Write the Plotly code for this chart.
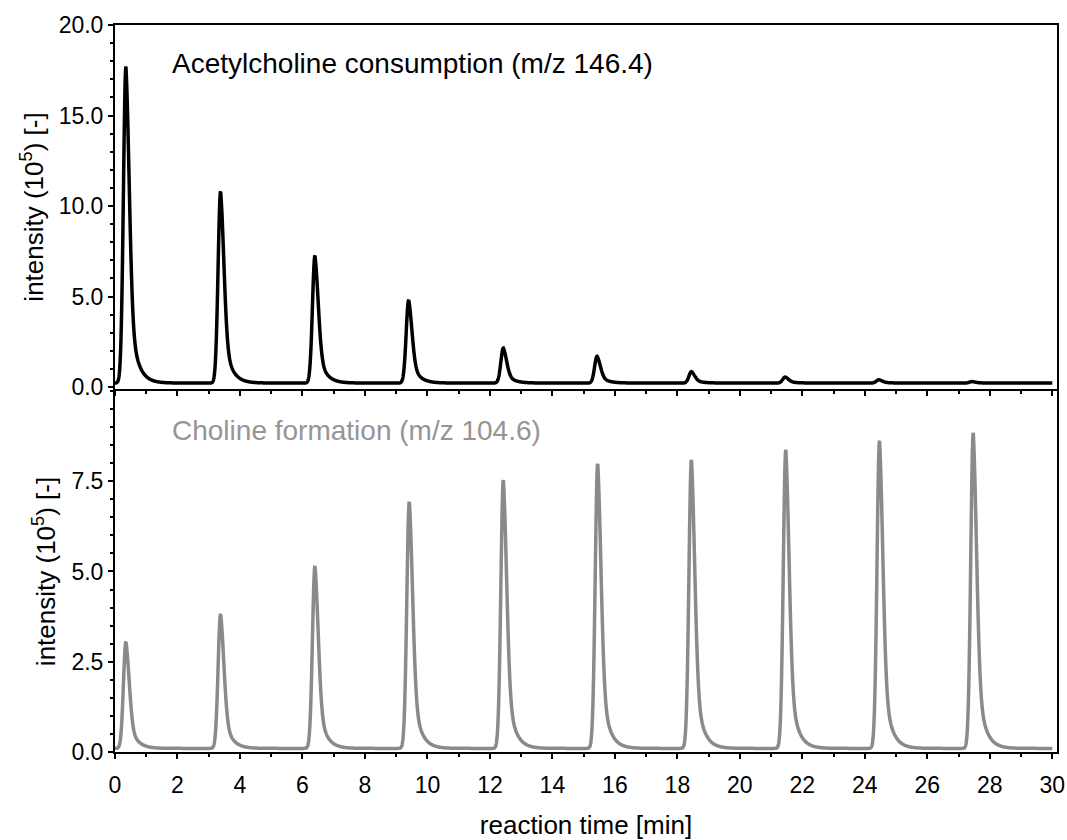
import numpy as np
import plotly.graph_objects as go

# Injection apex times [min] and apex intensities [10^5]
ach_times = [0.35, 3.38, 6.40, 9.40, 12.43, 15.43, 18.45, 21.45, 24.45, 27.43]
ach_heights = [17.7, 10.8, 7.25, 4.8, 2.15, 1.7, 0.85, 0.55, 0.4, 0.3]
ach_baseline = 0.22

cho_times = [0.35, 3.38, 6.40, 9.42, 12.43, 15.45, 18.45, 21.47, 24.47, 27.47]
cho_heights = [3.05, 3.82, 5.15, 6.93, 7.53, 7.98, 8.09, 8.37, 8.62, 8.84]
cho_baseline = 0.1

x_ticks = list(range(0, 31, 2))

t = np.linspace(0, 30, 6001)


def trace_from_peaks(times, heights, base):
    """Sum of tailed chromatographic peaks on a flat baseline."""
    y = np.full_like(t, base)
    for t0, h in zip(times, heights):
        d = t - t0
        left = np.exp(-0.5 * (d / 0.08) ** 2)
        right = 0.6 * np.exp(-0.5 * (d / 0.11) ** 2) + 0.4 * np.exp(-np.clip(d, 0, None) / 0.22)
        shape = np.where(d < 0, left, right)
        y = y + (h - base) * shape
    return y


ach = trace_from_peaks(ach_times, ach_heights, ach_baseline)
cho = trace_from_peaks(cho_times, cho_heights, cho_baseline)

FONT = "Liberation Sans, Arial, sans-serif"
GRAY = "#8a8a8a"
TICK_SIZE = 23
TITLE_SIZE = 26
NOTE_SIZE = 28

fig = go.Figure()
fig.add_trace(go.Scatter(x=t, y=ach, mode="lines",
                         line=dict(color="black", width=3.5, simplify=False),
                         xaxis="x", yaxis="y", showlegend=False, hoverinfo="skip"))
fig.add_trace(go.Scatter(x=t, y=cho, mode="lines",
                         line=dict(color=GRAY, width=3.5, simplify=False),
                         xaxis="x2", yaxis="y2", showlegend=False, hoverinfo="skip"))

axis_common = dict(showline=True, linecolor="black", linewidth=2, mirror=True,
                   showgrid=False, zeroline=False, ticks="outside", ticklen=5,
                   tickwidth=2, tickcolor="black", automargin=False,
                   tickfont=dict(family=FONT, size=TICK_SIZE, color="black"))
minor_ticks = dict(ticks="outside", ticklen=3, tickwidth=2, tickcolor="black")

fig.update_layout(
    width=1067, height=840,
    margin=dict(l=115, r=10, t=25, b=88),
    paper_bgcolor="white", plot_bgcolor="white",
    font=dict(family=FONT, color="black"),
    xaxis=dict(**axis_common, domain=[0, 1], range=[0, 30.15], anchor="y",
               matches="x2", showticklabels=False, tickvals=x_ticks,
               minor=dict(dtick=1, **minor_ticks)),
    yaxis=dict(**axis_common, domain=[0.4993, 1], range=[-0.11, 20],
               tickvals=[0, 5, 10, 15, 20], tickformat=".1f",
               minor=dict(dtick=1, **minor_ticks),
               title=dict(text="intensity (10<sup>5</sup>) [-]",
                          font=dict(family=FONT, size=TITLE_SIZE, color="black"), standoff=8)),
    xaxis2=dict(**axis_common, domain=[0, 1], range=[0, 30.15], anchor="y2",
                tickvals=x_ticks, ticklabelstandoff=6,
                minor=dict(dtick=1, **minor_ticks),
                title=dict(text="reaction time [min]",
                           font=dict(family=FONT, size=TITLE_SIZE, color="black"), standoff=24)),
    yaxis2=dict(**axis_common, domain=[0, 0.4966], range=[0, 10],
                tickvals=[0, 2.5, 5, 7.5], tickformat=".1f",
                minor=dict(dtick=0.5, **minor_ticks),
                title=dict(text="intensity (10<sup>5</sup>) [-]",
                           font=dict(family=FONT, size=TITLE_SIZE, color="black"), standoff=8)),
    annotations=[
        dict(text="Acetylcholine consumption (m/z 146.4)", x=1.76, y=17.9,
             xref="x", yref="y", xanchor="left", yanchor="middle", showarrow=False,
             font=dict(family=FONT, size=NOTE_SIZE, color="black")),
        dict(text="Choline formation (m/z 104.6)", x=1.76, y=8.9,
             xref="x2", yref="y2", xanchor="left", yanchor="middle", showarrow=False,
             font=dict(family=FONT, size=NOTE_SIZE, color="#959595")),
    ],
)

fig.write_html("out.html")
